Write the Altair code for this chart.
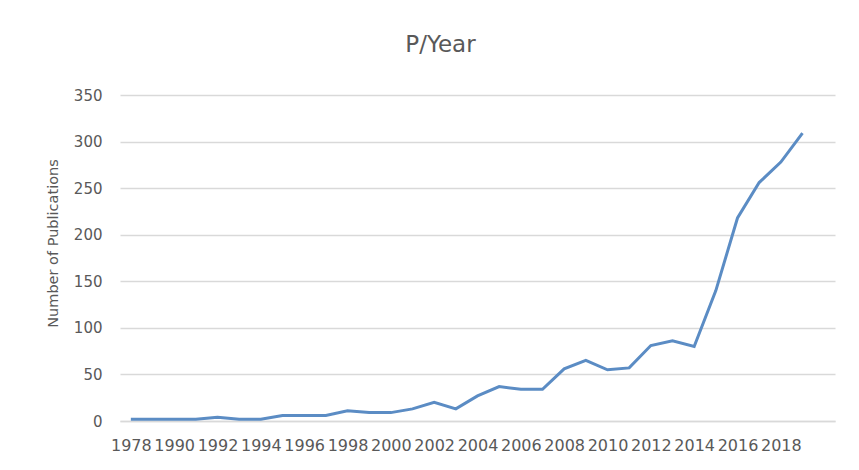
import altair as alt
import pandas as pd

years = ["1978", "1989", "1990", "1991", "1992", "1993", "1994", "1995", "1996", "1997",
         "1998", "1999", "2000", "2001", "2002", "2003", "2004", "2005", "2006", "2007",
         "2008", "2009", "2010", "2011", "2012", "2013", "2014", "2015", "2016", "2017",
         "2018", "2019"]
counts = [2, 2, 2, 2, 4, 2, 2, 6, 6, 6, 11, 9, 9, 13, 20, 13, 27, 37, 34, 34,
          56, 65, 55, 57, 81, 86, 80, 140, 218, 256, 278, 309]

df = pd.DataFrame({"idx": list(range(len(years))), "year": years, "count": counts})

lookup = "[" + ",".join("'" + y + "'" for y in years) + "]"

font = "DejaVu Sans"
grey = "#595959"

chart = alt.Chart(df).mark_line(color="#5b8cc4", strokeWidth=3).encode(
    x=alt.X("idx:Q",
            scale=alt.Scale(domain=[-0.5, 32.5], nice=False, zero=False),
            axis=alt.Axis(title=None, values=list(range(0, 31, 2)),
                          labelExpr=lookup + "[datum.value]",
                          grid=False, ticks=False, domain=True,
                          domainColor="#d9d9d9", domainWidth=1.5,
                          labelFont=font, labelFontSize=16, labelColor=grey,
                          labelPadding=16, labelOverlap=False, labelFlush=False)),
    y=alt.Y("count:Q",
            scale=alt.Scale(domain=[0, 350], nice=False),
            axis=alt.Axis(title="Number of Publications", values=list(range(0, 351, 50)),
                          grid=True, gridColor="#d9d9d9", gridWidth=1.5,
                          ticks=False, domain=False,
                          labelFont=font, labelFontSize=15, labelColor=grey,
                          labelPadding=18,
                          titleFont=font, titleFontSize=14.5, titleFontWeight="normal",
                          titleColor=grey, titleAngle=270, titleX=-67, titleY=148,
                          titleAlign="center", titleBaseline="middle")),
).properties(
    width=715, height=326,
    title=alt.TitleParams("P/Year", font=font, fontSize=23, fontWeight="normal",
                          color=grey, dx=-37, offset=13, baseline="alphabetic"),
    autosize=alt.AutoSizeParams(type="none"),
    padding={"left": 112, "top": 87, "right": 8, "bottom": 40},
).configure(background="white").configure_view(stroke=None)

chart.save("out.html", embed_options={"renderer": "svg", "actions": False})
